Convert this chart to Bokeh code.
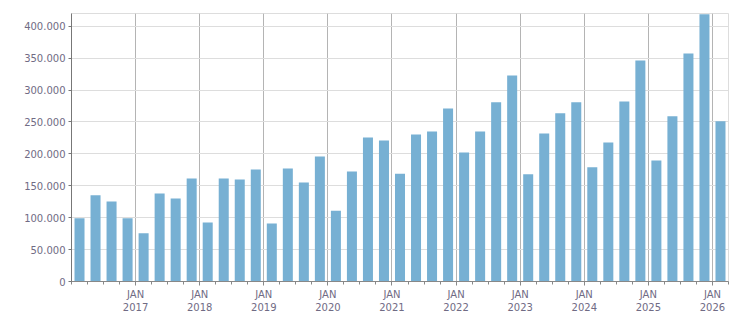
from bokeh.plotting import figure
from bokeh.models import FixedTicker, ColumnDataSource, Range1d, LinearAxis
from bokeh.embed import file_html
from bokeh.resources import INLINE

# Quarterly values, Q1 2016 .. Q1 2026
values = [99000, 135000, 125500, 99000, 75500, 138000, 130000, 161500,
          92500, 161500, 160000, 175500, 91000, 177000, 155000, 196000,
          111000, 172500, 225500, 221000, 169000, 230500, 235000, 271000,
          202000, 235000, 281000, 323000, 168000, 232000, 263500, 281000,
          179000, 218000, 282000, 346500, 189500, 259000, 357500, 419000,
          251000]
years = [2017, 2018, 2019, 2020, 2021, 2022, 2023, 2024, 2025, 2026]
month_label = "JAN"
y_ticks = [0, 50000, 100000, 150000, 200000, 250000, 300000, 350000, 400000]
y_labels = ["0", "50.000", "100.000", "150.000", "200.000", "250.000",
            "300.000", "350.000", "400.000"]

n = len(values)
xs = [i + 0.5 for i in range(n)]
src = ColumnDataSource(dict(x=xs, top=values))

p = figure(width=751, height=313, output_backend="svg", toolbar_location=None,
           x_range=Range1d(0, n), y_range=Range1d(0, 420000),
           min_border_left=71, min_border_right=23, min_border_top=13,
           min_border_bottom=0)
p.vbar(x="x", top="top", width=0.625, source=src, fill_color="#77b0d3",
       line_color=None)

label_color = "#706b84"
font = "DejaVu Sans"

major_x = [4 * (k + 1) for k in range(len(years))]
p.xaxis.ticker = FixedTicker(ticks=major_x, minor_ticks=list(range(0, n + 1)))
p.xaxis.major_label_overrides = {t: month_label for t in major_x}
p.xaxis.major_tick_out = 4
p.xaxis.major_tick_in = 0
p.xaxis.minor_tick_out = 3
p.xaxis.minor_tick_in = 0
p.xaxis.axis_line_color = "#888888"
p.xaxis.major_tick_line_color = "#888888"
p.xaxis.minor_tick_line_color = "#888888"
p.xaxis.major_label_standoff = 3

year_axis = LinearAxis(ticker=FixedTicker(ticks=major_x, minor_ticks=[]),
                       major_label_overrides={t: str(y) for t, y in zip(major_x, years)},
                       axis_line_color=None, major_tick_line_color=None,
                       minor_tick_line_color=None, major_tick_out=0,
                       major_tick_in=0, major_label_standoff=0)
p.add_layout(year_axis, "below")

p.yaxis.ticker = FixedTicker(ticks=y_ticks, minor_ticks=[])
p.yaxis.major_label_overrides = {t: l for t, l in zip(y_ticks, y_labels)}
p.yaxis.major_tick_out = 3
p.yaxis.major_tick_in = 0
p.yaxis.axis_line_color = "#777777"
p.yaxis.major_tick_line_color = "#777777"
p.yaxis.major_label_standoff = 3

for ax in (p.xaxis[0], year_axis, p.yaxis[0]):
    ax.major_label_text_font = font
    ax.major_label_text_font_size = "10px"
    ax.major_label_text_color = label_color

p.xgrid.ticker = FixedTicker(ticks=major_x)
p.xgrid.grid_line_color = "#b4b4b4"
p.ygrid.grid_line_color = "#dddddd"
p.outline_line_color = "#dddddd"
p.background_fill_color = "white"
p.border_fill_color = "white"

open("out.html", "w").write(file_html(p, INLINE))
